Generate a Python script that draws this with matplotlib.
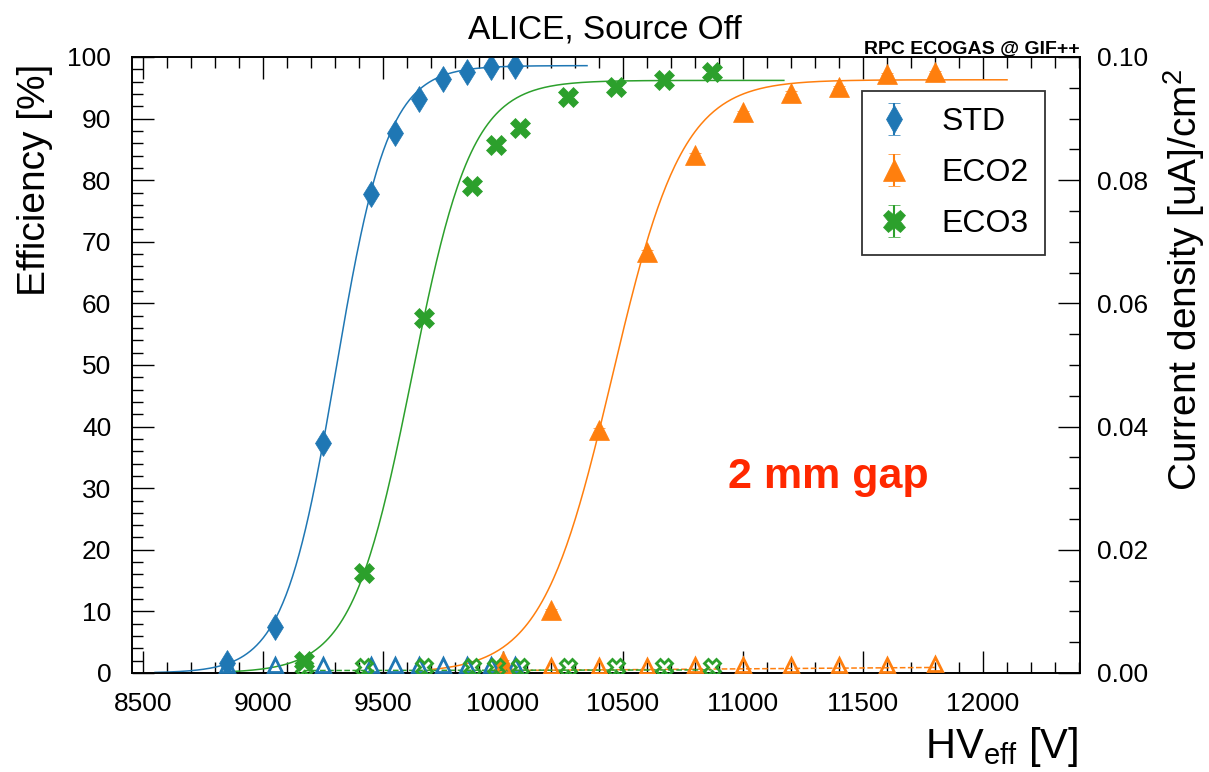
import numpy as np
import matplotlib
matplotlib.use("Agg")
import matplotlib.pyplot as plt
from matplotlib.ticker import MultipleLocator, FormatStrFormatter

plt.rcParams['font.family'] = ['Liberation Sans', 'DejaVu Sans']
plt.rcParams['mathtext.fontset'] = 'custom'
plt.rcParams['mathtext.rm'] = 'Liberation Sans'
plt.rcParams['mathtext.it'] = 'Liberation Sans:italic'
plt.rcParams['mathtext.bf'] = 'Liberation Sans:bold'

# ---------------- data ----------------
hv_std = [8850, 9050, 9250, 9450, 9550, 9650, 9750, 9850, 9950, 10050]
eff_std = [1.6, 7.5, 37.3, 77.8, 87.7, 93.2, 96.4, 97.6, 98.4, 98.5]
err_std = [0.2, 0.2, 0.3, 0.3, 0.2, 0.2, 0.2, 0.2, 0.2, 0.2]
cur_std = [0.0013, 0.0013, 0.0013, 0.0013, 0.0013, 0.0013, 0.0013, 0.0013, 0.0013, 0.0013]

hv_eco2 = [10000, 10200, 10400, 10600, 10800, 11000, 11200, 11400, 11600, 11800]
eff_eco2 = [1.9, 10.2, 39.4, 68.3, 84.1, 91.1, 94.2, 95.1, 97.2, 97.6]
err_eco2 = [0.2, 0.2, 0.3, 0.3, 0.3, 0.2, 0.2, 0.2, 0.2, 0.2]
cur_eco2 = [0.0012, 0.0012, 0.0012, 0.0012, 0.0013, 0.0013, 0.0013, 0.0013, 0.0013, 0.0014]

hv_eco3 = [9170, 9420, 9670, 9870, 9970, 10070, 10270, 10470, 10670, 10870]
eff_eco3 = [1.9, 16.2, 57.6, 79.1, 85.7, 88.5, 93.5, 95.1, 96.3, 97.6]
err_eco3 = [0.2, 0.3, 0.3, 0.3, 0.3, 0.2, 0.2, 0.2, 0.2, 0.2]
cur_eco3 = [0.0009, 0.0009, 0.0009, 0.0009, 0.0009, 0.0009, 0.0009, 0.0009, 0.0009, 0.0010]

# dashed current trend lines (end points)
curline_hv_eco2 = [10000, 11800]
curline_eco2 = [0.0004, 0.0009]
curline_hv_eco3 = [9170, 10870]
curline_eco3 = [0.0004, 0.0005]

# sigmoid fit parameters: [eff_max, lambda, HV50]
fit_std = [98.6, 0.0092, 9304]
fit_eco2 = [96.3, 0.0068, 10455]
fit_eco3 = [96.2, 0.0080, 9620]
fit_margin = 300

labels = ['STD', 'ECO2', 'ECO3']
colors = ['#1f77b4', '#ff7f0e', '#2ca02c']

# ---------------- figure ----------------
W, H = 1209, 772
fig = plt.figure(figsize=(W / 100, H / 100), dpi=100)
L, R, T, B = 132, 1080, 57, 673
ax = fig.add_axes([L / W, 1 - B / H, (R - L) / W, (B - T) / H])
ax2 = ax.twinx()

ax.set_xlim(8454, 12404)
ax.set_ylim(0, 100)
ax2.set_ylim(0, 0.1)


def sigmoid(hv, p):
    return p[0] / (1 + np.exp(-p[1] * (hv - p[2])))


series = [
    (hv_std, eff_std, err_std, cur_std, fit_std, 'd', 13),
    (hv_eco2, eff_eco2, err_eco2, cur_eco2, fit_eco2, '^', 15),
    (hv_eco3, eff_eco3, err_eco3, cur_eco3, fit_eco3, 'X', 15),
]

handles = []
for (hv, eff, err, cur, fp, mk, ms), c, lab in zip(series, colors, labels):
    hvf = np.linspace(min(hv) - fit_margin, max(hv) + fit_margin, 400)
    ax.plot(hvf, sigmoid(hvf, fp), color=c, lw=1.1, zorder=3)
    h = ax.errorbar(hv, eff, yerr=err, fmt=mk, ms=ms, color=c, mec=c,
                    mew=0.5, elinewidth=1.5, capsize=4, capthick=1.5,
                    label=lab, zorder=4)
    handles.append(h)

# current density (right axis)
ax2.plot(curline_hv_eco2, curline_eco2, color=colors[1], ls='--', lw=1.1, zorder=2)
ax2.plot(curline_hv_eco3, curline_eco3, color=colors[2], ls='--', lw=1.1, zorder=2)
ax2.plot(hv_std, cur_std, ls='none', marker='^', ms=10.5, mfc='none', mec=colors[0], mew=2, zorder=5)
ax2.plot(hv_eco2, cur_eco2, ls='none', marker='^', ms=10.5, mfc='none', mec=colors[1], mew=2, zorder=5)
ax2.plot(hv_eco3, cur_eco3, ls='none', marker='X', ms=12, mfc='none', mec=colors[2], mew=2, zorder=5)

# ticks
ax.xaxis.set_major_locator(MultipleLocator(500))
ax.xaxis.set_minor_locator(MultipleLocator(100))
ax.yaxis.set_major_locator(MultipleLocator(10))
ax.yaxis.set_minor_locator(MultipleLocator(2))
ax.tick_params(which='both', direction='in', top=True, right=False, width=1.0,
               labelsize=19)
ax.tick_params(axis='x', pad=14)
ax.tick_params(axis='y', pad=15)
ax.tick_params(which='major', length=15.8)
ax.tick_params(which='minor', length=7.9)

ax2.yaxis.set_major_locator(MultipleLocator(0.02))
ax2.yaxis.set_minor_locator(MultipleLocator(0.005))
ax2.yaxis.set_major_formatter(FormatStrFormatter('%.2f'))
ax2.tick_params(which='both', direction='in', width=1.0, labelsize=19, pad=12)
ax2.tick_params(which='major', length=15.8)
ax2.tick_params(which='minor', length=7.9)

for a in (ax, ax2):
    for s in a.spines.values():
        s.set_linewidth(1.2)

# legend
leg = ax.legend(handles=handles, labels=labels, loc='upper left',
                bbox_to_anchor=(0.770, 0.945), fontsize=23, frameon=True,
                fancybox=False, shadow=False, edgecolor='black',
                borderaxespad=0, borderpad=0.5, handlelength=1.0,
                handletextpad=1.0, labelspacing=0.66, markerscale=1.1)
leg.get_frame().set_linewidth(1.3)
leg.set_zorder(10)

# texts
fig.text(605 / W, 1 - 30 / H, 'ALICE, Source Off', ha='center', va='center', fontsize=24)
fig.text(1080 / W, 1 - 53 / H, 'RPC ECOGAS @ GIF++', ha='right', va='baseline',
         fontsize=14, fontweight='bold')
fig.text(828 / W, 1 - 488 / H, '2 mm gap', ha='center', va='baseline',
         fontsize=31, fontweight='bold', color='#ff2800')
fig.text(35 / W, 1 - 180 / H, 'Efficiency [%]', rotation=90, ha='center', va='center',
         fontsize=28)
fig.text(1184 / W, 1 - 280 / H, 'Current density [uA]/cm$^{2}$', rotation=90,
         ha='center', va='center', fontsize=28)
fig.text(1078 / W, 1 - 747 / H, 'HV$_{\\mathrm{eff}}$ [V]', ha='right', va='center',
         fontsize=30)

fig.savefig('out.png', dpi=100)
